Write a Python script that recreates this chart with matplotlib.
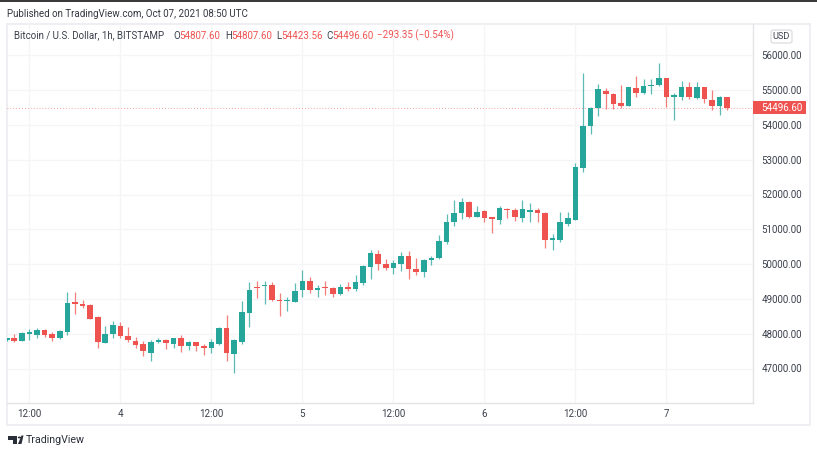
import matplotlib
matplotlib.use("Agg")
import matplotlib.pyplot as plt
from matplotlib.patches import Rectangle, FancyBboxPatch, Polygon, Circle

plt.rcParams['font.family'] = ['Roboto', 'DejaVu Sans']

opens = [47830,47867,47790,48000,47950,48095,47980,47876,48048,48924,48867,48838,48467,47733,47981,48228,
         47933,47800,47695,47448,47771,47819,47695,47867,47657,47752,47657,47581,47695,48171,47429,47752,
         48590,49352,49362,49413,48971,48933,48904,49260,49510,49250,49346,49327,49135,49327,49279,49471,
         49904,50279,50000,49885,49990,50231,49865,49769,50125,50173,50635,51221,51462,51779,51356,51519,
         51346,51260,51587,51543,51323,51505,51543,51476,50702,50692,51151,51266,52767,53962,54488,54985,
         54899,54640,54545,55071,54918,55119,55147,55358,54803,54803,55099,54774,55099,54727,54535,54807.60]
highs = [47860,47980,48040,48140,48160,48140,48050,48095,49210,49210,48980,48850,48495,48210,48352,48333,
         48190,47905,47790,47829,47886,47838,47870,47952,47790,47771,47695,47838,48190,48524,47838,48952,
         49495,49524,49524,49480,49163,49067,49471,49817,49625,49413,49510,49337,49433,49490,49673,49971,
         50394,50394,50154,50125,50337,50375,50183,50144,50240,50827,51433,51837,51913,51817,51663,51548,
         51365,51663,51615,51610,51849,51744,51600,51495,50855,51486,51495,52891,55500,54516,55166,55070,
         54918,55138,55090,55396,55310,55310,55788,55358,54927,55262,55243,55243,55100,54994,54822,54807.60]
lows = [47800,47750,47780,47810,47867,47905,47790,47838,47950,48552,48743,48410,47580,47730,47886,47876,
        47752,47580,47352,47210,47733,47562,47600,47467,47524,47495,47390,47448,47676,47219,46876,47714,
        48190,49019,48857,48952,48519,48663,48904,49048,49163,49048,49106,49067,49125,49240,49240,49394,
        49577,49837,49817,49721,49788,49577,49673,49615,49962,50144,50567,51096,51308,51327,51346,51212,
        50894,51163,51317,51247,51218,51218,51199,50453,50405,50644,51103,51266,52652,53732,54249,54459,
        54468,54488,54535,54803,54899,54899,55128,54516,54153,54707,54755,54755,54631,54420,54296,54423.56]
closes = [47850,47790,48030,48040,48095,47960,47885,48076,48895,48857,48790,48420,47771,48000,48238,47924,
          47810,47676,47495,47771,47810,47724,47867,47657,47752,47638,47581,47752,48171,47448,47819,48610,
          49267,49305,49390,48971,48933,48952,49221,49510,49250,49327,49308,49135,49346,49298,49490,49933,
          50308,50000,49885,50019,50231,49865,49769,50125,50163,50654,51212,51471,51779,51356,51490,51337,
          51288,51606,51548,51342,51572,51562,51457,50692,50721,51218,51333,52776,53981,54497,55023,54889,
          54593,54545,55080,54918,55128,55157,55358,54803,54851,55099,54793,55099,54736,54545,54793,54496.60]

price_ticks = [47000,48000,49000,50000,51000,52000,53000,54000,55000,56000]
time_ticks = [3,15,27,39,51,63,75,87]
time_labels = ['12:00','4','12:00','5','12:00','6','12:00','7']
last_price = closes[-1]

UP, DOWN = '#26a69a', '#ef5350'
W, H = 817, 453
GRID = '#f5f5f7'
BORDER = '#e4e4e8'
TXT = '#3a3f4b'
FS = 7.0

def fx(p): return p / W
def fy(p): return 1 - p / H

fig = plt.figure(figsize=(8.17, 4.53), dpi=100, facecolor='white')
# outer chart frame and top strip
fig.patches.append(Rectangle((fx(7), fy(425)), 803/W, 401/H, transform=fig.transFigure,
                             fc='white', ec='#efeff3', lw=1.4, zorder=-5))
fig.patches.append(Rectangle((0, fy(2)), 1, 2/H, transform=fig.transFigure, fc='#3a3a3a', ec='none', zorder=-5))

ax = fig.add_axes([fx(7), fy(403), 746/W, 379/H], zorder=1)
ax.set_xlim((7 - 6.7) / 7.583, (753 - 6.7) / 7.583)
ax.set_ylim(47000 - 34.5 / 34.8 * 1000, 56000 + 31.3 / 34.8 * 1000)
ax.patch.set_alpha(0)

for s in ['top', 'left']:
    ax.spines[s].set_visible(False)
for s in ['right', 'bottom']:
    ax.spines[s].set_color(BORDER)
    ax.spines[s].set_linewidth(1)

ax.yaxis.tick_right()
ax.set_yticks(price_ticks)
ax.set_yticklabels([f'{p:.2f}' for p in price_ticks])
ax.set_xticks(time_ticks)
ax.set_xticklabels(time_labels)
ax.tick_params(axis='both', length=0, labelsize=FS, labelcolor=TXT)
ax.tick_params(axis='y', pad=6)
ax.tick_params(axis='x', pad=4)
ax.grid(True, color=GRID, lw=1)
ax.set_axisbelow(True)

xs = list(range(len(opens)))
colors = [UP if c >= o else DOWN for o, c in zip(opens, closes)]
ax.vlines(xs, lows, highs, colors=colors, lw=0.9, alpha=0.75, zorder=3)
bottoms = [min(o, c) for o, c in zip(opens, closes)]
heights = [max(abs(c - o), 40) for o, c in zip(opens, closes)]
ax.bar(xs, heights, bottom=bottoms, width=0.74, color=colors, lw=0, zorder=4)

ax.axhline(last_price, color=DOWN, lw=0.6, ls=(0, (1, 2.5)), alpha=0.7, zorder=2)

# last price label
yp = ax.transData.transform((0, last_price))[1]
ypx = H - yp
fig.add_artist(Rectangle((fx(753), fy(ypx + 6.5)), 53/W, 13/H, transform=fig.transFigure,
                         fc=DOWN, ec='none', zorder=5))
fig.text(fx(761), fy(ypx), f'{last_price:.2f}', color='white', fontsize=FS, va='center', ha='left', zorder=6)

# USD button
fig.add_artist(FancyBboxPatch((fx(771), fy(43)), 21/W, 13/H, transform=fig.transFigure,
                              boxstyle='round,pad=0,rounding_size=0.004', fc='white', ec='#d8d8de', lw=0.8))
fig.text(fx(781.5), fy(36.5), 'USD', color=TXT, fontsize=6.6, ha='center', va='center')

# header
fig.text(fx(7), fy(14), 'Published on TradingView.com, Oct 07, 2021 08:50 UTC', color='#33363f', fontsize=FS, va='center')
header_y = fy(35.7)
hdr = [(14, 'Bitcoin / U.S. Dollar, 1h, BITSTAMP', TXT), (173, 'O', TXT), (179, '54807.60', DOWN),
       (225, 'H', TXT), (231, '54807.60', DOWN), (276, 'L', TXT), (281, '54423.56', DOWN),
       (326, 'C', TXT), (332, '54496.60', DOWN), (377, '\u2212293.35 (\u22120.54%)', DOWN)]
for px, s, c in hdr:
    fig.text(fx(px), header_y, s, color=c, fontsize=FS, va='center')

# TradingView logo and name
LOGO = '#2a2e39'
fig.add_artist(Polygon([(fx(7.5), fy(435.5)), (fx(17), fy(435.5)), (fx(17), fy(444)), (fx(12.5), fy(444)),
                        (fx(12.5), fy(439.5)), (fx(7.5), fy(439.5))], closed=True,
                       transform=fig.transFigure, fc=LOGO, ec='none'))
fig.add_artist(Circle((fx(19.5), fy(437.5)), 1.7/W, transform=fig.transFigure, fc=LOGO, ec='none'))
fig.add_artist(Polygon([(fx(18), fy(444)), (fx(21.5), fy(435.5)), (fx(23.5), fy(435.5)), (fx(21.5), fy(444))],
                       closed=True, transform=fig.transFigure, fc=LOGO, ec='none'))
fig.text(fx(26), fy(439.8), 'TradingView', color='#2a2e39', fontsize=7.7, va='center')

fig.savefig('out.png', dpi=100)
